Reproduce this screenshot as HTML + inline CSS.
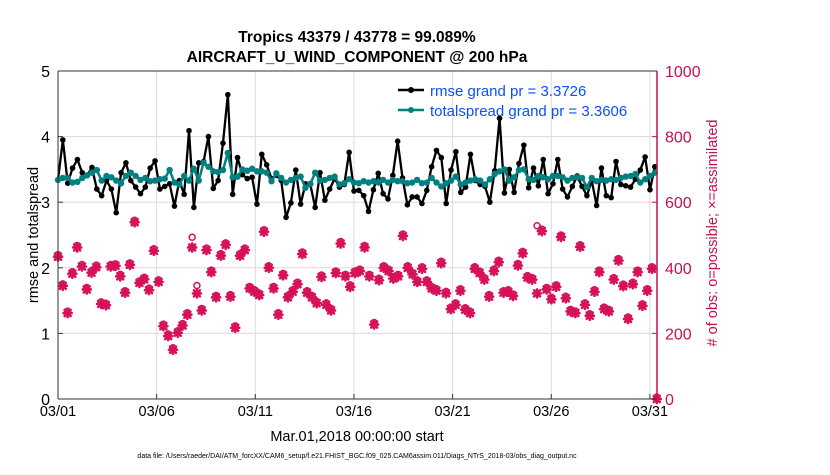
<!DOCTYPE html>
<html><head><meta charset="utf-8"><style>
body{margin:0;background:#fff;width:830px;height:470px;overflow:hidden}
svg{font-family:"Liberation Sans",sans-serif}
</style></head><body>
<svg id="chart" width="830" height="470">
<g id="grid"></g>
<g id="marks"></g>
<g id="axes"></g>
<text x="357" y="42" text-anchor="middle" font-size="15.5" font-weight="bold">Tropics 43379 / 43778 = 99.089%</text>
<text x="357" y="62" text-anchor="middle" font-size="15.5" font-weight="bold">AIRCRAFT_U_WIND_COMPONENT @ 200 hPa</text>
<text x="357" y="441" text-anchor="middle" font-size="14.5">Mar.01,2018 00:00:00 start</text>
<text x="38" y="235" text-anchor="middle" font-size="14.5" transform="rotate(-90 38 235)">rmse and totalspread</text>
<text x="717" y="233" text-anchor="middle" font-size="14.5" fill="#c8104e" transform="rotate(-90 717 233)"># of obs: o=possible; ×=assimilated</text>
<text x="357" y="458" text-anchor="middle" font-size="7">data file: /Users/raeder/DAI/ATM_forcXX/CAM6_setup/f.e21.FHIST_BGC.f09_025.CAM6assim.011/Diags_NTrS_2018-03/obs_diag_output.nc</text>
<g>
<line x1="398" y1="90" x2="424" y2="90" stroke="#000" stroke-width="2.5"/><circle cx="411" cy="90" r="3" fill="#000"/>
<text x="430" y="96" font-size="15" fill="#0a4fff">rmse grand pr = 3.3726</text>
<line x1="398" y1="110" x2="424" y2="110" stroke="#008080" stroke-width="2.5"/><circle cx="411" cy="110" r="3" fill="#008080"/>
<text x="430" y="116" font-size="15" fill="#0a4fff">totalspread grand pr = 3.3606</text>
</g>
</svg>
<script>
const xTickLabels=["03/01","03/06","03/11","03/16","03/21","03/26","03/31"];
const xTickDays=[0,5,10,15,20,25,30];
const yLeftTicks=[0,1,2,3,4,5];
const yRightTicks=[0,200,400,600,800,1000];
const rmse=[3.34,3.95,3.29,3.52,3.65,3.45,3.41,3.53,3.2,3.1,3.33,3.2,2.84,3.45,3.6,3.33,3.23,3.13,3.23,3.52,3.63,3.2,3.24,3.28,2.94,3.33,3.12,4.09,2.92,3.6,3.62,
4.0,3.21,3.33,3.9,4.64,3.12,3.68,3.42,3.36,3.38,2.97,3.73,3.57,3.36,3.41,3.33,2.77,2.99,3.49,2.97,3.28,3.27,2.92,3.45,3.03,3.2,3.36,3.23,3.27,3.76,3.17,
3.18,3.1,2.86,3.19,3.44,3.13,3.05,3.41,3.93,3.37,2.96,3.08,3.08,2.98,3.18,3.54,3.79,3.68,2.98,3.49,3.77,3.15,3.23,3.73,3.33,3.27,3.24,3.0,3.48,4.28,3.14,
3.5,3.15,3.59,3.87,3.22,3.52,3.25,3.65,3.13,3.28,3.65,3.2,3.08,3.24,3.4,3.24,3.1,3.33,2.95,3.52,3.1,3.07,3.62,3.27,3.25,3.23,3.35,3.49,3.69,3.19,3.54];
const spread=[3.34,3.37,3.37,3.3,3.31,3.37,3.41,3.45,3.49,3.33,3.4,3.38,3.33,3.29,3.4,3.45,3.4,3.34,3.37,3.32,3.33,3.35,3.36,3.49,3.3,3.27,3.4,3.33,3.51,3.33,3.6,
3.54,3.47,3.46,3.49,3.75,3.38,3.39,3.5,3.48,3.51,3.47,3.47,3.45,3.32,3.44,3.37,3.3,3.34,3.37,3.39,3.22,3.28,3.45,3.33,3.34,3.37,3.39,3.27,3.29,3.35,3.3,
3.29,3.32,3.3,3.32,3.3,3.34,3.3,3.34,3.32,3.32,3.29,3.3,3.34,3.29,3.3,3.37,3.3,3.24,3.29,3.33,3.39,3.27,3.3,3.33,3.35,3.33,3.27,3.35,3.43,3.47,3.5,
3.33,3.38,3.49,3.5,3.35,3.34,3.4,3.38,3.35,3.4,3.4,3.38,3.33,3.37,3.38,3.37,3.23,3.37,3.32,3.34,3.33,3.35,3.34,3.37,3.39,3.4,3.43,3.3,3.35,3.4,3.45];
const obsAssim=[434,345,262,382,462,404,334,385,402,290,286,404,406,374,324,409,539,354,365,332,452,357,222,192,150,202,224,257,462,322,270,
454,387,310,437,470,312,217,437,454,337,327,317,510,400,337,257,377,310,327,350,442,324,310,292,372,287,270,384,474,374,342,
384,390,462,374,227,362,400,390,367,374,497,400,380,357,397,357,337,330,414,322,274,287,330,272,262,397,384,364,312,390,417,324,
327,314,407,444,370,364,322,512,334,304,342,494,307,267,262,464,287,254,327,387,274,267,364,422,344,244,350,387,284,330,397,0];
const obsPossible=obsAssim.map((v,i)=>v);
obsPossible[28]=487;obsPossible[29]=340;obsPossible[100]=522;
const X0=58,DAYPX=19.73,YB=399,YT=71,XR=657,DAYMAX=30.35;
const xs=d=>X0+d*DAYPX;
const yl=v=>YB-(v/5)*(YB-YT);
const yr=v=>YB-(v/1000)*(YB-YT);
const NS="http://www.w3.org/2000/svg";
function mk(p,t,a){const e=document.createElementNS(NS,t);for(const k in a)e.setAttribute(k,a[k]);p.appendChild(e);return e;}
const grid=document.getElementById('grid'),marks=document.getElementById('marks'),axes=document.getElementById('axes');
xTickDays.forEach((d,i)=>{
 const g=mk(grid,'line',{x1:xs(d),x2:xs(d),y1:YT,y2:YB,stroke:'#dcdcdc','stroke-width':1});
 
 
 const t=mk(axes,'text',{x:xs(d),y:YB+17,'text-anchor':'middle','font-size':14.5});
 t.textContent=xTickLabels[i];
 
 
 mk(axes,'line',{x1:xs(d),x2:xs(d),y1:YB,y2:YB-5,stroke:'#333'});
});
yLeftTicks.forEach(v=>{
 if(v>0&&v<5){const g=mk(grid,'line',{x1:X0,x2:XR,y1:yl(v),y2:yl(v),stroke:'#ecd3dc','stroke-width':1});
 
 }
 const t=mk(axes,'text',{x:X0-8,y:yl(v)+6,'text-anchor':'end','font-size':16});
 t.textContent=v;
 
 
 mk(axes,'line',{x1:X0,x2:X0+5,y1:yl(v),y2:yl(v),stroke:'#333'});
});
yRightTicks.forEach(v=>{
 const t=mk(axes,'text',{x:XR+8,y:yr(v)+6,'font-size':16,fill:'#c8104e'});
 t.textContent=v;
 
 
 mk(axes,'line',{x1:XR-5,x2:XR,y1:yr(v),y2:yr(v),stroke:'#c8104e'});
});
mk(axes,'line',{x1:X0,x2:XR,y1:YT,y2:YT,stroke:'#333'});
mk(axes,'line',{x1:X0,x2:XR,y1:YB,y2:YB,stroke:'#333'});
mk(axes,'line',{x1:X0,x2:X0,y1:YT,y2:YB,stroke:'#333'});
mk(axes,'line',{x1:XR,x2:XR,y1:YT,y2:YB,stroke:'#c8104e','stroke-width':1.5});
const obsDay=i=>i*DAYMAX/(obsAssim.length-1);
obsPossible.forEach((v,i)=>{
 const c=mk(marks,'circle',{cx:xs(obsDay(i)),cy:yr(v)-2,r:3,fill:'none',stroke:'#d6115a','stroke-width':1.5});
 
 
});
obsAssim.forEach((v,i)=>{
 const x=xs(obsDay(i)),y=yr(v);
 const g=mk(marks,'g',{stroke:'#d6115a','stroke-width':2.6,'stroke-linecap':'round'});
 
 
 mk(g,'line',{x1:x-4,x2:x+4,y1:y,y2:y});
 mk(g,'line',{x1:x,x2:x,y1:y-4,y2:y+4});
 mk(g,'line',{x1:x-3,x2:x+3,y1:y-3,y2:y+3});
 mk(g,'line',{x1:x-3,x2:x+3,y1:y+3,y2:y-3});
});
function series(arr,color,name,r,w){
 const day=i=>i*30.25/(arr.length-1);
 const p=mk(marks,'polyline',{points:arr.map((v,i)=>xs(day(i))+','+yl(v)).join(' '),fill:'none',stroke:color,'stroke-width':w,'stroke-linejoin':'round'});
 
 
 arr.forEach((v,i)=>{const c=mk(marks,'circle',{cx:xs(day(i)),cy:yl(v),r:r,fill:color});
  
  });
}
series(rmse,'#000','rmse',2.8,2.3);
series(spread,'#008080','totalspread',3.2,2.5);
</script>
</body></html>
